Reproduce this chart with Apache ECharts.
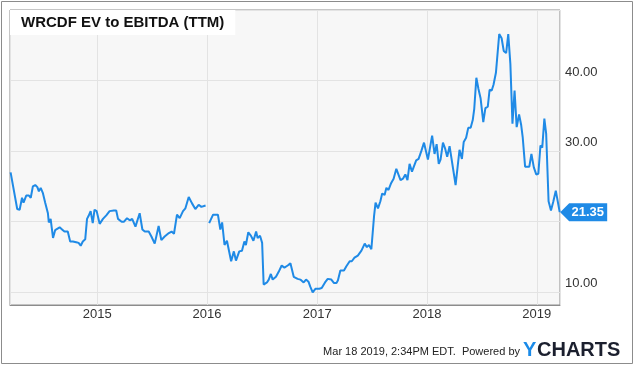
<!DOCTYPE html>
<html>
<head>
<meta charset="utf-8">
<script src="https://cdn.jsdelivr.net/npm/echarts@6/dist/echarts.min.js"></script>
<style>
html,body{margin:0;padding:0;background:#fff;}
#c{width:635px;height:366px;}
</style>
</head>
<body>
<div id="c"></div>
<script>
var titleText = 'WRCDF EV to EBITDA (TTM)';
var yTickValues = [10, 20, 30, 40];
var dates = [
'2014-03-19','2014-04-10','2014-04-18','2014-04-26','2014-05-01','2014-05-10','2014-05-19','2014-05-25',
'2014-06-01','2014-06-09','2014-06-16','2014-06-21','2014-06-27','2014-07-04','2014-07-12','2014-07-21',
'2014-07-24','2014-07-30','2014-08-07','2014-08-14','2014-08-20','2014-08-29','2014-09-06','2014-09-14',
'2014-09-25','2014-10-03','2014-10-12','2014-10-23','2014-10-31','2014-11-07','2014-11-14','2014-11-22',
'2014-11-28','2014-12-03','2014-12-10','2014-12-17','2014-12-23','2014-12-30','2015-01-09','2015-01-20',
'2015-01-31','2015-02-11','2015-02-25','2015-03-05','2015-03-11','2015-03-23','2015-03-31','2015-04-10',
'2015-04-19','2015-04-27','2015-05-08','2015-05-22','2015-05-31','2015-06-08','2015-06-21','2015-06-30',
'2015-07-11','2015-07-24','2015-08-02','2015-08-13','2015-08-27','2015-09-05','2015-09-13','2015-09-23',
'2015-10-02','2015-10-13','2015-10-21','2015-11-01','2015-11-12','2015-11-23','2015-12-04','2015-12-13',
'2015-12-27','2016-01-02','2016-01-08','2016-01-21','2016-02-06','2016-02-14','2016-02-20','2016-02-28',
'2016-03-07','2016-03-21','2016-03-30','2016-04-06','2016-04-17','2016-04-26','2016-05-04','2016-05-09',
'2016-05-17','2016-05-26','2016-06-03','2016-06-12','2016-06-17','2016-06-25','2016-07-02','2016-07-07',
'2016-07-18','2016-07-24','2016-07-31','2016-08-06','2016-08-17','2016-08-26','2016-09-05','2016-09-14',
'2016-09-25','2016-10-04','2016-10-15','2016-10-28','2016-11-06','2016-11-17','2016-11-25','2016-12-03',
'2016-12-09','2016-12-17','2016-12-26','2017-01-08','2017-01-16','2017-01-27','2017-02-05','2017-02-17',
'2017-02-26','2017-03-06','2017-03-11','2017-03-19','2017-03-31','2017-04-08','2017-04-19','2017-04-26',
'2017-05-05','2017-05-16','2017-05-28','2017-06-08','2017-06-15','2017-06-22','2017-06-30','2017-07-09',
'2017-07-14','2017-07-22','2017-07-30','2017-08-05','2017-08-13','2017-08-19','2017-08-26','2017-09-04',
'2017-09-12','2017-09-21','2017-09-26','2017-10-05','2017-10-13','2017-10-21','2017-10-28','2017-11-04',
'2017-11-12','2017-11-18','2017-11-26','2017-12-04','2017-12-13','2017-12-22','2017-12-27','2018-01-04',
'2018-01-18','2018-01-26','2018-02-02','2018-02-09','2018-02-15','2018-02-23','2018-03-02','2018-03-09',
'2018-03-17','2018-03-23','2018-04-06','2018-04-19','2018-04-27','2018-05-03','2018-05-11','2018-05-18',
'2018-05-26','2018-06-02','2018-06-07','2018-06-14','2018-06-21','2018-06-28','2018-07-07','2018-07-14',
'2018-07-22','2018-07-28','2018-08-04','2018-08-10','2018-08-18','2018-08-29','2018-09-06','2018-09-13',
'2018-09-21','2018-09-28','2018-10-05','2018-10-12','2018-10-19','2018-10-26','2018-11-03','2018-11-10',
'2018-11-15','2018-11-23','2018-12-07','2018-12-14','2018-12-22','2018-12-30','2019-01-06','2019-01-13',
'2019-01-19','2019-01-26','2019-02-01','2019-02-09','2019-02-17','2019-02-25','2019-03-05','2019-03-11',
'2019-03-18'
];
var values = [
27.0,21.8,21.7,23.4,22.7,23.7,23.7,23.4,
25.0,25.2,24.9,24.3,24.8,24.1,22.7,21.2,
19.9,20.4,17.7,18.8,18.6,19.2,18.9,18.6,
18.6,17.2,17.2,17.1,17.0,16.6,17.2,17.5,
20.4,20.8,21.5,19.8,21.7,21.5,19.7,20.4,
20.9,21.5,21.6,21.6,20.4,20.0,20.0,20.5,
20.2,20.4,19.3,21.2,18.9,18.6,18.6,17.9,
16.9,19.4,17.4,17.9,18.4,18.6,18.3,21.0,
20.5,21.5,21.9,23.5,22.6,21.8,22.4,22.1,
22.3,null,19.8,21.0,21.0,18.9,19.9,16.7,
17.3,14.4,15.8,14.5,15.8,15.9,17.2,16.7,
18.5,18.0,17.3,18.6,17.7,18.0,17.0,11.1,
11.4,11.8,12.6,11.8,12.2,12.9,13.8,13.5,
13.8,14.1,12.2,11.9,11.8,11.4,11.8,11.5,
10.8,10.0,10.5,10.5,10.6,11.4,11.9,11.8,
11.3,11.3,11.7,13.1,13.1,13.7,14.4,14.4,
14.9,15.2,15.9,16.9,16.4,16.7,16.1,20.8,
22.7,21.9,22.9,24.0,23.8,24.8,24.5,25.5,
26.1,27.5,27.6,25.9,26.1,26.7,25.9,28.2,
27.1,27.1,28.7,28.9,30.0,31.2,31.2,28.8,
32.2,29.6,31.0,28.2,28.8,31.2,30.4,29.2,
30.7,30.5,25.2,30.2,28.9,31.3,31.9,33.3,
33.3,34.4,36.0,40.4,38.8,37.5,34.1,36.1,
36.3,38.7,38.6,39.4,41.1,46.6,46.0,44.2,
43.9,46.6,42.4,33.9,38.6,33.4,35.2,33.7,
32.0,27.8,27.8,29.6,27.7,26.7,26.8,30.8,
30.5,34.6,32.5,22.9,21.6,22.9,24.4,24.4,
21.35
];

var seriesData = dates.map(function (d, i) { return [d, values[i]]; });
var lastDate = dates[dates.length - 1];
var lastValue = values[values.length - 1];
var FONT = '"Liberation Sans", Arial, sans-serif';
var BLUE = '#1f8ae6';

var chart = echarts.init(document.getElementById('c'), null, {renderer: 'canvas'});
chart.setOption({
  animation: false,
  backgroundColor: '#fff',
  title: {
    text: titleText,
    left: 10, top: 10,
    backgroundColor: '#ffffff',
    padding: [5, 11, 5, 11],
    textStyle: {fontFamily: FONT, fontSize: 15, fontWeight: 'bold', color: '#111'}
  },
  grid: {
    left: 10, right: 75, top: 10, bottom: 61,
    show: true, backgroundColor: '#f7f7f7', borderColor: '#8c8c8c', borderWidth: 1
  },
  xAxis: {
    type: 'time',
    min: '2014-03-17', max: '2019-03-19',
    minInterval: 365 * 24 * 3600 * 1000,
    axisLine: {show: true, lineStyle: {color: '#8c8c8c'}},
    axisTick: {show: false},
    splitLine: {show: true, lineStyle: {color: '#e3e3e3', width: 1}},
    axisLabel: {
      margin: 3,
      fontFamily: FONT, fontSize: 13, color: '#333',
      showMinLabel: false, showMaxLabel: false,
      formatter: function (val) {
        var d = new Date(val);
        return (d.getMonth() === 0 && d.getDate() === 1) ? String(d.getFullYear()) : '';
      }
    }
  },
  yAxis: {
    type: 'value',
    position: 'right',
    min: 8.2, max: 50,
    axisLine: {show: false},
    axisTick: {show: false},
    splitLine: {show: true, lineStyle: {color: '#e3e3e3', width: 1}},
    axisLabel: {
      margin: 5,
      verticalAlign: 'bottom',
      padding: [0, 0, 2, 0],
      fontFamily: FONT, fontSize: 13, color: '#333',
      formatter: function (v) {
        return yTickValues.indexOf(Math.round(v * 100) / 100) >= 0 ? v.toFixed(2) : '';
      }
    }
  },
  series: [{
    type: 'line',
    data: seriesData,
    showSymbol: false,
    connectNulls: false,
    lineStyle: {color: BLUE, width: 2},
    itemStyle: {color: BLUE},
    markPoint: {
      silent: true,
      symbol: 'path://M0,9L9,0L47,0L47,18L9,18Z',
      symbolSize: [47, 18],
      symbolOffset: [24, 0],
      itemStyle: {color: BLUE},
      label: {
        show: true, position: 'inside', offset: [4, 0],
        color: '#fff', fontFamily: FONT, fontSize: 13, fontWeight: 'bold',
        formatter: function (p) { return Number(p.value).toFixed(2); }
      },
      data: [{coord: [lastDate, lastValue], value: lastValue}]
    }
  }],
  graphic: [
    {type: 'rect', shape: {x: 1.5, y: 1.5, width: 631, height: 362}, style: {fill: 'none', stroke: '#8c8c8c', lineWidth: 1}, silent: true},
    {type: 'text', right: 115, top: 346, style: {text: 'Mar 18 2019, 2:34PM EDT.  Powered by', fontFamily: FONT, fontSize: 11, fill: '#222'}},
    {type: 'text', left: 523, top: 340, style: {text: 'Y', fontFamily: FONT, fontSize: 20, fontWeight: 'bold', fill: '#1a8ae8'}},
    {type: 'text', left: 537, top: 340, style: {text: 'CHARTS', fontFamily: FONT, fontSize: 20, fontWeight: 'bold', fill: '#1b1f2e'}}
  ]
});
</script>
</body>
</html>
